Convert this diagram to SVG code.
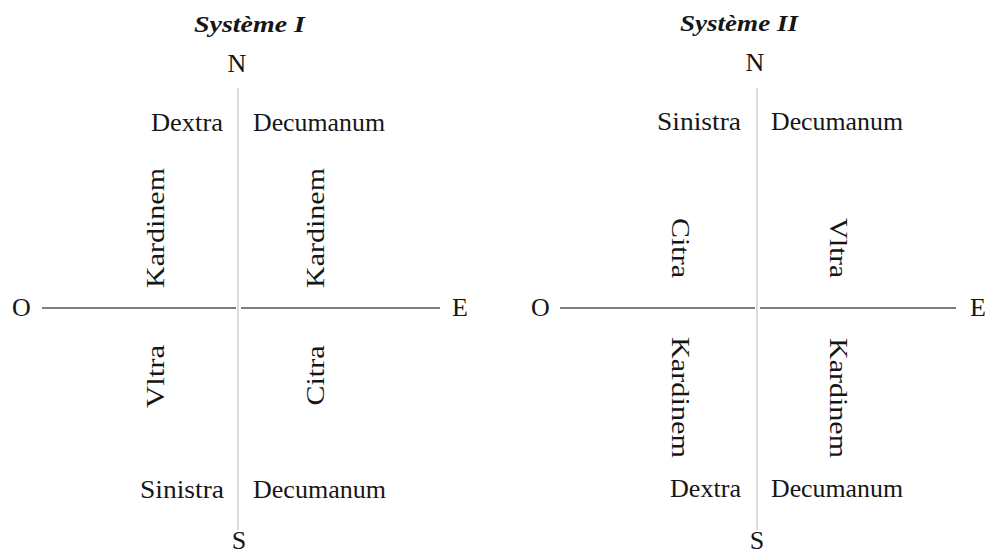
<svg xmlns="http://www.w3.org/2000/svg" width="986" height="557" viewBox="0 0 986 557">
<style>
.t{font-family:"Liberation Serif","Times New Roman",serif;font-size:26px;fill:#161616}
.h{font-family:"Liberation Serif","Times New Roman",serif;font-size:23px;font-style:italic;font-weight:bold;fill:#161616}
.m{text-anchor:middle}
.axis{stroke:#555;stroke-width:1.3;fill:none}
.meridian{stroke:#c4c4c4;stroke-width:1.2;fill:none}
</style>
<rect width="986" height="557" fill="#fff"/>
<g id="connectors">
<line class="meridian" x1="238" y1="88" x2="238" y2="530"/>
<line class="axis" x1="42" y1="308" x2="236" y2="308"/>
<line class="axis" x1="241" y1="308" x2="440" y2="308"/>
<line class="meridian" x1="757" y1="88" x2="757" y2="530"/>
<line class="axis" x1="560" y1="308" x2="755" y2="308"/>
<line class="axis" x1="760" y1="308" x2="956" y2="308"/>
</g>
<g id="system1">
<text id="title1" class="h" x="194" y="32" textLength="111" lengthAdjust="spacingAndGlyphs">Système I</text>
<g id="s1-N"><text class="t m" x="237" y="72">N</text></g>
<g id="s1-S"><text class="t m" x="239" y="549">S</text></g>
<g id="s1-O"><text class="t" x="12" y="316">O</text></g>
<g id="s1-E"><text class="t" x="452" y="316">E</text></g>
<g id="s1-dextra"><text class="t" x="151" y="131" textLength="72" lengthAdjust="spacingAndGlyphs">Dextra</text></g>
<g id="s1-decumanum-n"><text class="t" x="253" y="131" textLength="132" lengthAdjust="spacingAndGlyphs">Decumanum</text></g>
<g id="s1-sinistra"><text class="t" x="140" y="498" textLength="84" lengthAdjust="spacingAndGlyphs">Sinistra</text></g>
<g id="s1-decumanum-s"><text class="t" x="253" y="498" textLength="133" lengthAdjust="spacingAndGlyphs">Decumanum</text></g>
<g id="s1-kardinem-w"><text class="t m" transform="translate(164,228) rotate(-90)" textLength="120" lengthAdjust="spacingAndGlyphs">Kardinem</text></g>
<g id="s1-kardinem-e"><text class="t m" transform="translate(324,228) rotate(-90)" textLength="120" lengthAdjust="spacingAndGlyphs">Kardinem</text></g>
<g id="s1-vltra"><text class="t m" transform="translate(164,376.5) rotate(-90)" textLength="63" lengthAdjust="spacingAndGlyphs">Vltra</text></g>
<g id="s1-citra"><text class="t m" transform="translate(324,375.5) rotate(-90)" textLength="60" lengthAdjust="spacingAndGlyphs">Citra</text></g>
</g>
<g id="system2">
<text id="title2" class="h" x="680" y="31" textLength="118" lengthAdjust="spacingAndGlyphs">Système II</text>
<g id="s2-N"><text class="t m" x="755" y="71">N</text></g>
<g id="s2-S"><text class="t m" x="757" y="549">S</text></g>
<g id="s2-O"><text class="t" x="531" y="316">O</text></g>
<g id="s2-E"><text class="t" x="970" y="316">E</text></g>
<g id="s2-sinistra"><text class="t" x="657" y="130" textLength="84" lengthAdjust="spacingAndGlyphs">Sinistra</text></g>
<g id="s2-decumanum-n"><text class="t" x="771" y="130" textLength="132" lengthAdjust="spacingAndGlyphs">Decumanum</text></g>
<g id="s2-dextra"><text class="t" x="670" y="497" textLength="71" lengthAdjust="spacingAndGlyphs">Dextra</text></g>
<g id="s2-decumanum-s"><text class="t" x="771" y="497" textLength="132" lengthAdjust="spacingAndGlyphs">Decumanum</text></g>
<g id="s2-citra"><text class="t m" transform="translate(672,248) rotate(90)" textLength="60" lengthAdjust="spacingAndGlyphs">Citra</text></g>
<g id="s2-vltra"><text class="t m" transform="translate(830,248) rotate(90)" textLength="60" lengthAdjust="spacingAndGlyphs">Vltra</text></g>
<g id="s2-kardinem-w"><text class="t m" transform="translate(672,397.5) rotate(90)" textLength="121" lengthAdjust="spacingAndGlyphs">Kardinem</text></g>
<g id="s2-kardinem-e"><text class="t m" transform="translate(830,398) rotate(90)" textLength="120" lengthAdjust="spacingAndGlyphs">Kardinem</text></g>
</g>
</svg>
